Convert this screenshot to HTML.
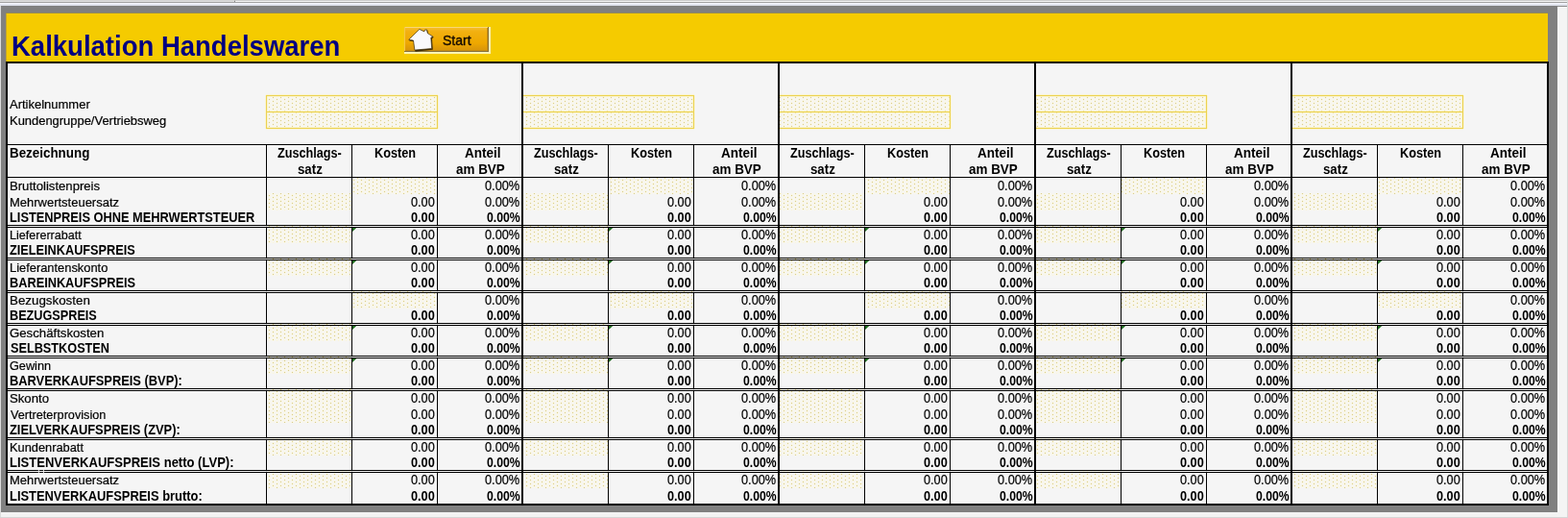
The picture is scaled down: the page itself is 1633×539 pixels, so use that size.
<!DOCTYPE html>
<html lang="de"><head><meta charset="utf-8"><title>Kalkulation Handelswaren</title>
<style>
html,body{margin:0;padding:0;background:#f3f3f3;}
body{width:1633px;height:539px;overflow:hidden;position:relative;font-family:"Liberation Sans",Arial,sans-serif;}
#g{position:absolute;left:0;top:0;width:1633px;height:539px;display:block;shape-rendering:crispEdges;}
#g path{shape-rendering:geometricPrecision;}
.t{position:absolute;font-size:14px;line-height:17px;height:17px;white-space:nowrap;color:#000;transform:scaleX(.9286);transform-origin:0 0;-webkit-text-stroke:.22px #000;}
.b{font-weight:bold;-webkit-text-stroke:0;}
.l{font-size:13.5px;}

.title{position:absolute;left:12.45px;top:28px;font-size:28.6px;line-height:40px;transform:scaleX(.962);transform-origin:0 0;font-weight:bold;color:#000080;white-space:nowrap;}
.start{position:absolute;left:461.3px;top:33.5px;font-size:14.2px;line-height:17px;color:#140a00;white-space:nowrap;transform:scaleX(.99);transform-origin:0 0;-webkit-text-stroke:.35px #140a00;}
</style></head>
<body>
<svg id="g" width="1633" height="539" viewBox="0 0 1633 539">
<defs>
<pattern id="dp" x="0" y="0" width="8" height="4" patternUnits="userSpaceOnUse">
<rect width="8" height="4" fill="#f7f6f0"/>
<path d="M0 0h1v1h-1zM0 2h1v1h1v1h-2zM7 3h1v1h-1zM4 0h1v1h1v1h-1v1h-1v-1h-1v-1h1z" fill="#fbf6db"/>
<rect x="0" y="3" width="1" height="1" fill="#d5cb96"/>
<rect x="4" y="1" width="1" height="1" fill="#d5cb96"/>
</pattern>
<linearGradient id="bg" x1="0" y1="0" x2="0" y2="1">
<stop offset="0" stop-color="#f6c030"/><stop offset=".2" stop-color="#f2b010"/><stop offset=".7" stop-color="#eea800"/><stop offset="1" stop-color="#d9960a"/>
</linearGradient>
</defs>
<rect x="0" y="0" width="1633" height="539" fill="#f3f3f3"/>
<rect x="0" y="0" width="1633" height="1" fill="#cccccc"/>
<rect x="0" y="1" width="1633" height="1" fill="#f4f4f4"/>
<rect x="0" y="2" width="1633" height="1" fill="#a1a1a1"/>
<rect x="0" y="3" width="1633" height="1" fill="#f4f5fb"/>
<rect x="0" y="4" width="1633" height="1" fill="#e4e7f0"/>
<rect x="0" y="5" width="1633" height="1" fill="#dfe2ec"/>
<rect x="0" y="0" width="244" height="1" fill="#d3d3d3"/>
<rect x="0" y="1" width="244" height="1" fill="#dedede"/>
<rect x="244" y="1" width="1" height="1" fill="#858585"/>
<rect x="244" y="0" width="1" height="1" fill="#bdbdbd"/>
<rect x="0" y="6" width="1" height="533" fill="#dcdcdc"/>
<rect x="1" y="6" width="1621" height="527" fill="#808080"/>
<rect x="1622" y="7" width="10" height="531" fill="#f4f4f4"/>
<rect x="1622" y="6" width="10" height="1" fill="#8c8c8c"/>
<rect x="1632" y="0" width="1" height="539" fill="#d8d8d8"/>
<rect x="0" y="538" width="1633" height="1" fill="#d6d6d6"/>
<rect x="6" y="14" width="1606" height="50" fill="#f5cb00"/>
<rect x="6" y="13" width="1606" height="1" fill="#948a55"/>
<rect x="6" y="14" width="1" height="50" fill="#c4a62c"/>
<rect x="6" y="64" width="1607" height="462" fill="#000"/>
<rect x="8" y="66" width="1603" height="458" fill="#f5f5f5"/>
<rect x="278" y="100" width="178" height="33" fill="url(#dp)"/>
<rect x="367" y="185" width="88" height="17" fill="url(#dp)"/>
<rect x="278" y="201" width="88" height="18" fill="url(#dp)"/>
<rect x="278" y="235" width="88" height="18" fill="url(#dp)"/>
<rect x="278" y="269" width="88" height="18" fill="url(#dp)"/>
<rect x="367" y="303" width="88" height="18" fill="url(#dp)"/>
<rect x="278" y="337" width="88" height="18" fill="url(#dp)"/>
<rect x="278" y="371" width="88" height="18" fill="url(#dp)"/>
<rect x="278" y="405" width="88" height="18" fill="url(#dp)"/>
<rect x="278" y="422" width="88" height="18" fill="url(#dp)"/>
<rect x="278" y="456" width="88" height="18" fill="url(#dp)"/>
<rect x="278" y="490" width="88" height="18" fill="url(#dp)"/>
<rect x="545" y="100" width="178" height="33" fill="url(#dp)"/>
<rect x="634" y="185" width="88" height="17" fill="url(#dp)"/>
<rect x="545" y="201" width="88" height="18" fill="url(#dp)"/>
<rect x="545" y="235" width="88" height="18" fill="url(#dp)"/>
<rect x="545" y="269" width="88" height="18" fill="url(#dp)"/>
<rect x="634" y="303" width="88" height="18" fill="url(#dp)"/>
<rect x="545" y="337" width="88" height="18" fill="url(#dp)"/>
<rect x="545" y="371" width="88" height="18" fill="url(#dp)"/>
<rect x="545" y="405" width="88" height="18" fill="url(#dp)"/>
<rect x="545" y="422" width="88" height="18" fill="url(#dp)"/>
<rect x="545" y="456" width="88" height="18" fill="url(#dp)"/>
<rect x="545" y="490" width="88" height="18" fill="url(#dp)"/>
<rect x="812" y="100" width="178" height="33" fill="url(#dp)"/>
<rect x="901" y="185" width="88" height="17" fill="url(#dp)"/>
<rect x="812" y="201" width="88" height="18" fill="url(#dp)"/>
<rect x="812" y="235" width="88" height="18" fill="url(#dp)"/>
<rect x="812" y="269" width="88" height="18" fill="url(#dp)"/>
<rect x="901" y="303" width="88" height="18" fill="url(#dp)"/>
<rect x="812" y="337" width="88" height="18" fill="url(#dp)"/>
<rect x="812" y="371" width="88" height="18" fill="url(#dp)"/>
<rect x="812" y="405" width="88" height="18" fill="url(#dp)"/>
<rect x="812" y="422" width="88" height="18" fill="url(#dp)"/>
<rect x="812" y="456" width="88" height="18" fill="url(#dp)"/>
<rect x="812" y="490" width="88" height="18" fill="url(#dp)"/>
<rect x="1079" y="100" width="178" height="33" fill="url(#dp)"/>
<rect x="1168" y="185" width="88" height="17" fill="url(#dp)"/>
<rect x="1079" y="201" width="88" height="18" fill="url(#dp)"/>
<rect x="1079" y="235" width="88" height="18" fill="url(#dp)"/>
<rect x="1079" y="269" width="88" height="18" fill="url(#dp)"/>
<rect x="1168" y="303" width="88" height="18" fill="url(#dp)"/>
<rect x="1079" y="337" width="88" height="18" fill="url(#dp)"/>
<rect x="1079" y="371" width="88" height="18" fill="url(#dp)"/>
<rect x="1079" y="405" width="88" height="18" fill="url(#dp)"/>
<rect x="1079" y="422" width="88" height="18" fill="url(#dp)"/>
<rect x="1079" y="456" width="88" height="18" fill="url(#dp)"/>
<rect x="1079" y="490" width="88" height="18" fill="url(#dp)"/>
<rect x="1346" y="100" width="178" height="33" fill="url(#dp)"/>
<rect x="1435" y="185" width="88" height="17" fill="url(#dp)"/>
<rect x="1346" y="201" width="88" height="18" fill="url(#dp)"/>
<rect x="1346" y="235" width="88" height="18" fill="url(#dp)"/>
<rect x="1346" y="269" width="88" height="18" fill="url(#dp)"/>
<rect x="1435" y="303" width="88" height="18" fill="url(#dp)"/>
<rect x="1346" y="337" width="88" height="18" fill="url(#dp)"/>
<rect x="1346" y="371" width="88" height="18" fill="url(#dp)"/>
<rect x="1346" y="405" width="88" height="18" fill="url(#dp)"/>
<rect x="1346" y="422" width="88" height="18" fill="url(#dp)"/>
<rect x="1346" y="456" width="88" height="18" fill="url(#dp)"/>
<rect x="1346" y="490" width="88" height="18" fill="url(#dp)"/>
<rect x="277" y="98" width="179" height="3" fill="#fbf2b8" opacity=".55"/>
<rect x="277" y="115" width="179" height="3" fill="#fbf2b8" opacity=".55"/>
<rect x="277" y="132" width="179" height="3" fill="#fbf2b8" opacity=".55"/>
<rect x="454" y="99" width="3" height="35" fill="#fbf2b8" opacity=".55"/>
<rect x="276" y="99" width="3" height="35" fill="#fbf2b8" opacity=".55"/>
<rect x="277" y="99" width="179" height="1" fill="#ecd252"/>
<rect x="277" y="116" width="179" height="1" fill="#ecd252"/>
<rect x="277" y="133" width="179" height="1" fill="#ecd252"/>
<rect x="455" y="99" width="1" height="35" fill="#ecd252"/>
<rect x="277" y="99" width="1" height="35" fill="#ecd252"/>
<rect x="545" y="98" width="178" height="3" fill="#fbf2b8" opacity=".55"/>
<rect x="545" y="115" width="178" height="3" fill="#fbf2b8" opacity=".55"/>
<rect x="545" y="132" width="178" height="3" fill="#fbf2b8" opacity=".55"/>
<rect x="721" y="99" width="3" height="35" fill="#fbf2b8" opacity=".55"/>
<rect x="545" y="99" width="178" height="1" fill="#ecd252"/>
<rect x="545" y="116" width="178" height="1" fill="#ecd252"/>
<rect x="545" y="133" width="178" height="1" fill="#ecd252"/>
<rect x="722" y="99" width="1" height="35" fill="#ecd252"/>
<rect x="812" y="98" width="178" height="3" fill="#fbf2b8" opacity=".55"/>
<rect x="812" y="115" width="178" height="3" fill="#fbf2b8" opacity=".55"/>
<rect x="812" y="132" width="178" height="3" fill="#fbf2b8" opacity=".55"/>
<rect x="988" y="99" width="3" height="35" fill="#fbf2b8" opacity=".55"/>
<rect x="812" y="99" width="178" height="1" fill="#ecd252"/>
<rect x="812" y="116" width="178" height="1" fill="#ecd252"/>
<rect x="812" y="133" width="178" height="1" fill="#ecd252"/>
<rect x="989" y="99" width="1" height="35" fill="#ecd252"/>
<rect x="1079" y="98" width="178" height="3" fill="#fbf2b8" opacity=".55"/>
<rect x="1079" y="115" width="178" height="3" fill="#fbf2b8" opacity=".55"/>
<rect x="1079" y="132" width="178" height="3" fill="#fbf2b8" opacity=".55"/>
<rect x="1255" y="99" width="3" height="35" fill="#fbf2b8" opacity=".55"/>
<rect x="1079" y="99" width="178" height="1" fill="#ecd252"/>
<rect x="1079" y="116" width="178" height="1" fill="#ecd252"/>
<rect x="1079" y="133" width="178" height="1" fill="#ecd252"/>
<rect x="1256" y="99" width="1" height="35" fill="#ecd252"/>
<rect x="1346" y="98" width="178" height="3" fill="#fbf2b8" opacity=".55"/>
<rect x="1346" y="115" width="178" height="3" fill="#fbf2b8" opacity=".55"/>
<rect x="1346" y="132" width="178" height="3" fill="#fbf2b8" opacity=".55"/>
<rect x="1522" y="99" width="3" height="35" fill="#fbf2b8" opacity=".55"/>
<rect x="1346" y="99" width="178" height="1" fill="#ecd252"/>
<rect x="1346" y="116" width="178" height="1" fill="#ecd252"/>
<rect x="1346" y="133" width="178" height="1" fill="#ecd252"/>
<rect x="1523" y="99" width="1" height="35" fill="#ecd252"/>
<rect x="8" y="150" width="1603" height="1" fill="#000"/>
<rect x="8" y="184" width="1603" height="1" fill="#000"/>
<rect x="277" y="150" width="1" height="374" fill="#000"/>
<rect x="366" y="150" width="1" height="374" fill="#000"/>
<rect x="455" y="150" width="1" height="374" fill="#000"/>
<rect x="633" y="150" width="1" height="374" fill="#000"/>
<rect x="722" y="150" width="1" height="374" fill="#000"/>
<rect x="900" y="150" width="1" height="374" fill="#000"/>
<rect x="989" y="150" width="1" height="374" fill="#000"/>
<rect x="1167" y="150" width="1" height="374" fill="#000"/>
<rect x="1256" y="150" width="1" height="374" fill="#000"/>
<rect x="1434" y="150" width="1" height="374" fill="#000"/>
<rect x="1523" y="150" width="1" height="374" fill="#000"/>
<rect x="8" y="234" width="1603" height="1" fill="#000"/>
<rect x="8" y="236" width="1603" height="1" fill="#000"/>
<rect x="8" y="268" width="1603" height="1" fill="#000"/>
<rect x="8" y="270" width="1603" height="1" fill="#000"/>
<rect x="8" y="302" width="1603" height="1" fill="#000"/>
<rect x="8" y="304" width="1603" height="1" fill="#000"/>
<rect x="8" y="336" width="1603" height="1" fill="#000"/>
<rect x="8" y="338" width="1603" height="1" fill="#000"/>
<rect x="8" y="370" width="1603" height="1" fill="#000"/>
<rect x="8" y="372" width="1603" height="1" fill="#000"/>
<rect x="8" y="404" width="1603" height="1" fill="#000"/>
<rect x="8" y="406" width="1603" height="1" fill="#000"/>
<rect x="8" y="455" width="1603" height="1" fill="#000"/>
<rect x="8" y="457" width="1603" height="1" fill="#000"/>
<rect x="8" y="489" width="1603" height="1" fill="#000"/>
<rect x="8" y="491" width="1603" height="1" fill="#000"/>
<rect x="277" y="235" width="1" height="1" fill="#cfcfcf"/>
<rect x="366" y="235" width="1" height="1" fill="#cfcfcf"/>
<rect x="455" y="235" width="1" height="1" fill="#cfcfcf"/>
<rect x="633" y="235" width="1" height="1" fill="#cfcfcf"/>
<rect x="722" y="235" width="1" height="1" fill="#cfcfcf"/>
<rect x="900" y="235" width="1" height="1" fill="#cfcfcf"/>
<rect x="989" y="235" width="1" height="1" fill="#cfcfcf"/>
<rect x="1167" y="235" width="1" height="1" fill="#cfcfcf"/>
<rect x="1256" y="235" width="1" height="1" fill="#cfcfcf"/>
<rect x="1434" y="235" width="1" height="1" fill="#cfcfcf"/>
<rect x="1523" y="235" width="1" height="1" fill="#cfcfcf"/>
<rect x="277" y="269" width="1" height="1" fill="#cfcfcf"/>
<rect x="366" y="269" width="1" height="1" fill="#cfcfcf"/>
<rect x="455" y="269" width="1" height="1" fill="#cfcfcf"/>
<rect x="633" y="269" width="1" height="1" fill="#cfcfcf"/>
<rect x="722" y="269" width="1" height="1" fill="#cfcfcf"/>
<rect x="900" y="269" width="1" height="1" fill="#cfcfcf"/>
<rect x="989" y="269" width="1" height="1" fill="#cfcfcf"/>
<rect x="1167" y="269" width="1" height="1" fill="#cfcfcf"/>
<rect x="1256" y="269" width="1" height="1" fill="#cfcfcf"/>
<rect x="1434" y="269" width="1" height="1" fill="#cfcfcf"/>
<rect x="1523" y="269" width="1" height="1" fill="#cfcfcf"/>
<rect x="277" y="303" width="1" height="1" fill="#cfcfcf"/>
<rect x="366" y="303" width="1" height="1" fill="#cfcfcf"/>
<rect x="455" y="303" width="1" height="1" fill="#cfcfcf"/>
<rect x="633" y="303" width="1" height="1" fill="#cfcfcf"/>
<rect x="722" y="303" width="1" height="1" fill="#cfcfcf"/>
<rect x="900" y="303" width="1" height="1" fill="#cfcfcf"/>
<rect x="989" y="303" width="1" height="1" fill="#cfcfcf"/>
<rect x="1167" y="303" width="1" height="1" fill="#cfcfcf"/>
<rect x="1256" y="303" width="1" height="1" fill="#cfcfcf"/>
<rect x="1434" y="303" width="1" height="1" fill="#cfcfcf"/>
<rect x="1523" y="303" width="1" height="1" fill="#cfcfcf"/>
<rect x="277" y="337" width="1" height="1" fill="#cfcfcf"/>
<rect x="366" y="337" width="1" height="1" fill="#cfcfcf"/>
<rect x="455" y="337" width="1" height="1" fill="#cfcfcf"/>
<rect x="633" y="337" width="1" height="1" fill="#cfcfcf"/>
<rect x="722" y="337" width="1" height="1" fill="#cfcfcf"/>
<rect x="900" y="337" width="1" height="1" fill="#cfcfcf"/>
<rect x="989" y="337" width="1" height="1" fill="#cfcfcf"/>
<rect x="1167" y="337" width="1" height="1" fill="#cfcfcf"/>
<rect x="1256" y="337" width="1" height="1" fill="#cfcfcf"/>
<rect x="1434" y="337" width="1" height="1" fill="#cfcfcf"/>
<rect x="1523" y="337" width="1" height="1" fill="#cfcfcf"/>
<rect x="277" y="371" width="1" height="1" fill="#cfcfcf"/>
<rect x="366" y="371" width="1" height="1" fill="#cfcfcf"/>
<rect x="455" y="371" width="1" height="1" fill="#cfcfcf"/>
<rect x="633" y="371" width="1" height="1" fill="#cfcfcf"/>
<rect x="722" y="371" width="1" height="1" fill="#cfcfcf"/>
<rect x="900" y="371" width="1" height="1" fill="#cfcfcf"/>
<rect x="989" y="371" width="1" height="1" fill="#cfcfcf"/>
<rect x="1167" y="371" width="1" height="1" fill="#cfcfcf"/>
<rect x="1256" y="371" width="1" height="1" fill="#cfcfcf"/>
<rect x="1434" y="371" width="1" height="1" fill="#cfcfcf"/>
<rect x="1523" y="371" width="1" height="1" fill="#cfcfcf"/>
<rect x="277" y="405" width="1" height="1" fill="#cfcfcf"/>
<rect x="366" y="405" width="1" height="1" fill="#cfcfcf"/>
<rect x="455" y="405" width="1" height="1" fill="#cfcfcf"/>
<rect x="633" y="405" width="1" height="1" fill="#cfcfcf"/>
<rect x="722" y="405" width="1" height="1" fill="#cfcfcf"/>
<rect x="900" y="405" width="1" height="1" fill="#cfcfcf"/>
<rect x="989" y="405" width="1" height="1" fill="#cfcfcf"/>
<rect x="1167" y="405" width="1" height="1" fill="#cfcfcf"/>
<rect x="1256" y="405" width="1" height="1" fill="#cfcfcf"/>
<rect x="1434" y="405" width="1" height="1" fill="#cfcfcf"/>
<rect x="1523" y="405" width="1" height="1" fill="#cfcfcf"/>
<rect x="277" y="456" width="1" height="1" fill="#cfcfcf"/>
<rect x="366" y="456" width="1" height="1" fill="#cfcfcf"/>
<rect x="455" y="456" width="1" height="1" fill="#cfcfcf"/>
<rect x="633" y="456" width="1" height="1" fill="#cfcfcf"/>
<rect x="722" y="456" width="1" height="1" fill="#cfcfcf"/>
<rect x="900" y="456" width="1" height="1" fill="#cfcfcf"/>
<rect x="989" y="456" width="1" height="1" fill="#cfcfcf"/>
<rect x="1167" y="456" width="1" height="1" fill="#cfcfcf"/>
<rect x="1256" y="456" width="1" height="1" fill="#cfcfcf"/>
<rect x="1434" y="456" width="1" height="1" fill="#cfcfcf"/>
<rect x="1523" y="456" width="1" height="1" fill="#cfcfcf"/>
<rect x="277" y="490" width="1" height="1" fill="#cfcfcf"/>
<rect x="366" y="490" width="1" height="1" fill="#cfcfcf"/>
<rect x="455" y="490" width="1" height="1" fill="#cfcfcf"/>
<rect x="633" y="490" width="1" height="1" fill="#cfcfcf"/>
<rect x="722" y="490" width="1" height="1" fill="#cfcfcf"/>
<rect x="900" y="490" width="1" height="1" fill="#cfcfcf"/>
<rect x="989" y="490" width="1" height="1" fill="#cfcfcf"/>
<rect x="1167" y="490" width="1" height="1" fill="#cfcfcf"/>
<rect x="1256" y="490" width="1" height="1" fill="#cfcfcf"/>
<rect x="1434" y="490" width="1" height="1" fill="#cfcfcf"/>
<rect x="1523" y="490" width="1" height="1" fill="#cfcfcf"/>
<rect x="543" y="64" width="2" height="460" fill="#000"/>
<rect x="810" y="64" width="2" height="460" fill="#000"/>
<rect x="1077" y="64" width="2" height="460" fill="#000"/>
<rect x="1344" y="64" width="2" height="460" fill="#000"/>
<rect x="40" y="488" width="1" height="5" fill="#f5f5f5" opacity=".85"/>
<rect x="45" y="488" width="1" height="5" fill="#f5f5f5" opacity=".85"/>
<path d="M367 237h4.3L367 241.1z" fill="#1c6b1c"/>
<path d="M367 271h4.3L367 275.1z" fill="#1c6b1c"/>
<path d="M367 339h4.3L367 343.1z" fill="#1c6b1c"/>
<path d="M367 373h4.3L367 377.1z" fill="#1c6b1c"/>
<path d="M634 237h4.3L634 241.1z" fill="#1c6b1c"/>
<path d="M634 271h4.3L634 275.1z" fill="#1c6b1c"/>
<path d="M634 339h4.3L634 343.1z" fill="#1c6b1c"/>
<path d="M634 373h4.3L634 377.1z" fill="#1c6b1c"/>
<path d="M901 237h4.3L901 241.1z" fill="#1c6b1c"/>
<path d="M901 271h4.3L901 275.1z" fill="#1c6b1c"/>
<path d="M901 339h4.3L901 343.1z" fill="#1c6b1c"/>
<path d="M901 373h4.3L901 377.1z" fill="#1c6b1c"/>
<path d="M1168 237h4.3L1168 241.1z" fill="#1c6b1c"/>
<path d="M1168 271h4.3L1168 275.1z" fill="#1c6b1c"/>
<path d="M1168 339h4.3L1168 343.1z" fill="#1c6b1c"/>
<path d="M1168 373h4.3L1168 377.1z" fill="#1c6b1c"/>
<path d="M1435 237h4.3L1435 241.1z" fill="#1c6b1c"/>
<path d="M1435 271h4.3L1435 275.1z" fill="#1c6b1c"/>
<path d="M1435 339h4.3L1435 343.1z" fill="#1c6b1c"/>
<path d="M1435 373h4.3L1435 377.1z" fill="#1c6b1c"/>
<g>
<rect x="421" y="28" width="90" height="28" fill="#fdf4b4"/>
<rect x="421" y="28" width="88" height="26" fill="#86703a"/>
<rect x="421" y="28" width="87" height="25" fill="#c98f12"/>
<rect x="421" y="28" width="86" height="24" fill="url(#bg)"/>
<rect x="421" y="28" width="87" height="1" fill="#f9d776"/>
<rect x="421" y="28" width="1" height="25" fill="#f5c649"/>
<path d="M437.6 31.1 L442.6 33.6 L442.9 31.9 L445.2 31.6 L446.1 35.3 L451.8 38.8 L450 40.2 L450.8 51.8 L432.5 53.8 L431.2 43.2 L426 42.5 Z" fill="#1e1400" opacity=".8"/>
<path d="M436.9 30.4 L441.9 32.9 L442.3 31.2 L444.4 30.9 L445.3 34.6 L450.9 38.1 L448.8 39.2 L449.7 50.5 L431.9 52.1 L430.5 42.1 L425.7 41.3 Z" fill="#f9f9fb" stroke="#3a2a04" stroke-opacity=".75" stroke-width=".9" stroke-linejoin="miter"/>
</g>
</svg>
<div class="title">Kalkulation Handelswaren</div>
<div class="start">Start</div>
<div class="t l" style="left:10.10px;top:100px;transform:scaleX(0.9624)">Artikelnummer</div>
<div class="t l" style="left:9.58px;top:117px;transform:scaleX(0.9581)">Kundengruppe/Vertriebsweg</div>
<div class="t b" style="left:9.90px;top:151px;transform:scaleX(0.9564)">Bezeichnung</div>
<div class="t l" style="left:9.67px;top:185px;transform:scaleX(0.9722)">Bruttolistenpreis</div>
<div class="t l" style="left:9.68px;top:202px;transform:scaleX(0.9615)">Mehrwertsteuersatz</div>
<div class="t b" style="left:9.98px;top:218px;transform:scaleX(0.9148)">LISTENPREIS OHNE MEHRWERTSTEUER</div>
<div class="t l" style="left:9.71px;top:236px;transform:scaleX(0.9312)">Liefererrabatt</div>
<div class="t b" style="left:10.34px;top:252px;transform:scaleX(0.9086)">ZIELEINKAUFSPREIS</div>
<div class="t l" style="left:9.69px;top:270px;transform:scaleX(0.9536)">Lieferantenskonto</div>
<div class="t b" style="left:9.98px;top:286px;transform:scaleX(0.9111)">BAREINKAUFSPREIS</div>
<div class="t l" style="left:9.65px;top:304px;transform:scaleX(0.9881)">Bezugskosten</div>
<div class="t b" style="left:9.99px;top:320px;transform:scaleX(0.9048)">BEZUGSPREIS</div>
<div class="t l" style="left:10.04px;top:338px;transform:scaleX(0.9776)">Geschäftskosten</div>
<div class="t b" style="left:11.34px;top:354px;transform:scaleX(0.9069)">SELBSTKOSTEN</div>
<div class="t l" style="left:10.07px;top:372px;transform:scaleX(0.9402)">Gewinn</div>
<div class="t b" style="left:9.97px;top:388px;transform:scaleX(0.9184)">BARVERKAUFSPREIS (BVP):</div>
<div class="t l" style="left:10.14px;top:406px;transform:scaleX(0.9759)">Skonto</div>
<div class="t l" style="left:10.70px;top:423px;transform:scaleX(0.9386)">Vertreterprovision</div>
<div class="t b" style="left:10.33px;top:439px;transform:scaleX(0.9189)">ZIELVERKAUFSPREIS (ZVP):</div>
<div class="t l" style="left:9.69px;top:457px;transform:scaleX(0.9497)">Kundenrabatt</div>
<div class="t b" style="left:9.96px;top:473px;transform:scaleX(0.9304)">LISTENVERKAUFSPREIS netto (LVP):</div>
<div class="t l" style="left:9.68px;top:491px;transform:scaleX(0.9615)">Mehrwertsteuersatz</div>
<div class="t b" style="left:9.97px;top:508px;transform:scaleX(0.9215)">LISTENVERKAUFSPREIS brutto:</div>
<div class="t b" style="left:288.84px;top:151px;transform:scaleX(0.9036)">Zuschlags-</div>
<div class="t b" style="left:309.92px;top:168px;transform:scaleX(0.9455)">satz</div>
<div class="t b" style="left:389.68px;top:151px;transform:scaleX(0.9082)">Kosten</div>
<div class="t b" style="left:483.81px;top:151px;transform:scaleX(0.9654)">Anteil</div>
<div class="t b" style="left:475.12px;top:168px;transform:scaleX(0.9602)">am BVP</div>
<div class="t" style="left:505.24px;top:185px;transform:scaleX(0.9110)">0.00%</div>
<div class="t" style="left:428.15px;top:202px;transform:scaleX(0.9063)">0.00</div>
<div class="t" style="left:505.24px;top:202px;transform:scaleX(0.9110)">0.00%</div>
<div class="t b" style="left:428.15px;top:218px;transform:scaleX(0.9063)">0.00</div>
<div class="t b" style="left:507.06px;top:218px;transform:scaleX(0.8726)">0.00%</div>
<div class="t" style="left:428.15px;top:236px;transform:scaleX(0.9063)">0.00</div>
<div class="t" style="left:505.24px;top:236px;transform:scaleX(0.9110)">0.00%</div>
<div class="t b" style="left:428.15px;top:252px;transform:scaleX(0.9063)">0.00</div>
<div class="t b" style="left:507.06px;top:252px;transform:scaleX(0.8726)">0.00%</div>
<div class="t" style="left:428.15px;top:270px;transform:scaleX(0.9063)">0.00</div>
<div class="t" style="left:505.24px;top:270px;transform:scaleX(0.9110)">0.00%</div>
<div class="t b" style="left:428.15px;top:286px;transform:scaleX(0.9063)">0.00</div>
<div class="t b" style="left:507.06px;top:286px;transform:scaleX(0.8726)">0.00%</div>
<div class="t" style="left:505.24px;top:304px;transform:scaleX(0.9110)">0.00%</div>
<div class="t b" style="left:428.15px;top:320px;transform:scaleX(0.9063)">0.00</div>
<div class="t b" style="left:507.06px;top:320px;transform:scaleX(0.8726)">0.00%</div>
<div class="t" style="left:428.15px;top:338px;transform:scaleX(0.9063)">0.00</div>
<div class="t" style="left:505.24px;top:338px;transform:scaleX(0.9110)">0.00%</div>
<div class="t b" style="left:428.15px;top:354px;transform:scaleX(0.9063)">0.00</div>
<div class="t b" style="left:507.06px;top:354px;transform:scaleX(0.8726)">0.00%</div>
<div class="t" style="left:428.15px;top:372px;transform:scaleX(0.9063)">0.00</div>
<div class="t" style="left:505.24px;top:372px;transform:scaleX(0.9110)">0.00%</div>
<div class="t b" style="left:428.15px;top:388px;transform:scaleX(0.9063)">0.00</div>
<div class="t b" style="left:507.06px;top:388px;transform:scaleX(0.8726)">0.00%</div>
<div class="t" style="left:428.15px;top:406px;transform:scaleX(0.9063)">0.00</div>
<div class="t" style="left:505.24px;top:406px;transform:scaleX(0.9110)">0.00%</div>
<div class="t" style="left:428.15px;top:423px;transform:scaleX(0.9063)">0.00</div>
<div class="t" style="left:505.24px;top:423px;transform:scaleX(0.9110)">0.00%</div>
<div class="t b" style="left:428.15px;top:439px;transform:scaleX(0.9063)">0.00</div>
<div class="t b" style="left:507.06px;top:439px;transform:scaleX(0.8726)">0.00%</div>
<div class="t" style="left:428.15px;top:457px;transform:scaleX(0.9063)">0.00</div>
<div class="t" style="left:505.24px;top:457px;transform:scaleX(0.9110)">0.00%</div>
<div class="t b" style="left:428.15px;top:473px;transform:scaleX(0.9063)">0.00</div>
<div class="t b" style="left:507.06px;top:473px;transform:scaleX(0.8726)">0.00%</div>
<div class="t" style="left:428.15px;top:491px;transform:scaleX(0.9063)">0.00</div>
<div class="t" style="left:505.24px;top:491px;transform:scaleX(0.9110)">0.00%</div>
<div class="t b" style="left:428.15px;top:508px;transform:scaleX(0.9063)">0.00</div>
<div class="t b" style="left:507.06px;top:508px;transform:scaleX(0.8726)">0.00%</div>
<div class="t b" style="left:555.84px;top:151px;transform:scaleX(0.9036)">Zuschlags-</div>
<div class="t b" style="left:576.92px;top:168px;transform:scaleX(0.9455)">satz</div>
<div class="t b" style="left:656.68px;top:151px;transform:scaleX(0.9082)">Kosten</div>
<div class="t b" style="left:750.81px;top:151px;transform:scaleX(0.9654)">Anteil</div>
<div class="t b" style="left:742.12px;top:168px;transform:scaleX(0.9602)">am BVP</div>
<div class="t" style="left:772.24px;top:185px;transform:scaleX(0.9110)">0.00%</div>
<div class="t" style="left:695.15px;top:202px;transform:scaleX(0.9063)">0.00</div>
<div class="t" style="left:772.24px;top:202px;transform:scaleX(0.9110)">0.00%</div>
<div class="t b" style="left:695.15px;top:218px;transform:scaleX(0.9063)">0.00</div>
<div class="t b" style="left:774.06px;top:218px;transform:scaleX(0.8726)">0.00%</div>
<div class="t" style="left:695.15px;top:236px;transform:scaleX(0.9063)">0.00</div>
<div class="t" style="left:772.24px;top:236px;transform:scaleX(0.9110)">0.00%</div>
<div class="t b" style="left:695.15px;top:252px;transform:scaleX(0.9063)">0.00</div>
<div class="t b" style="left:774.06px;top:252px;transform:scaleX(0.8726)">0.00%</div>
<div class="t" style="left:695.15px;top:270px;transform:scaleX(0.9063)">0.00</div>
<div class="t" style="left:772.24px;top:270px;transform:scaleX(0.9110)">0.00%</div>
<div class="t b" style="left:695.15px;top:286px;transform:scaleX(0.9063)">0.00</div>
<div class="t b" style="left:774.06px;top:286px;transform:scaleX(0.8726)">0.00%</div>
<div class="t" style="left:772.24px;top:304px;transform:scaleX(0.9110)">0.00%</div>
<div class="t b" style="left:695.15px;top:320px;transform:scaleX(0.9063)">0.00</div>
<div class="t b" style="left:774.06px;top:320px;transform:scaleX(0.8726)">0.00%</div>
<div class="t" style="left:695.15px;top:338px;transform:scaleX(0.9063)">0.00</div>
<div class="t" style="left:772.24px;top:338px;transform:scaleX(0.9110)">0.00%</div>
<div class="t b" style="left:695.15px;top:354px;transform:scaleX(0.9063)">0.00</div>
<div class="t b" style="left:774.06px;top:354px;transform:scaleX(0.8726)">0.00%</div>
<div class="t" style="left:695.15px;top:372px;transform:scaleX(0.9063)">0.00</div>
<div class="t" style="left:772.24px;top:372px;transform:scaleX(0.9110)">0.00%</div>
<div class="t b" style="left:695.15px;top:388px;transform:scaleX(0.9063)">0.00</div>
<div class="t b" style="left:774.06px;top:388px;transform:scaleX(0.8726)">0.00%</div>
<div class="t" style="left:695.15px;top:406px;transform:scaleX(0.9063)">0.00</div>
<div class="t" style="left:772.24px;top:406px;transform:scaleX(0.9110)">0.00%</div>
<div class="t" style="left:695.15px;top:423px;transform:scaleX(0.9063)">0.00</div>
<div class="t" style="left:772.24px;top:423px;transform:scaleX(0.9110)">0.00%</div>
<div class="t b" style="left:695.15px;top:439px;transform:scaleX(0.9063)">0.00</div>
<div class="t b" style="left:774.06px;top:439px;transform:scaleX(0.8726)">0.00%</div>
<div class="t" style="left:695.15px;top:457px;transform:scaleX(0.9063)">0.00</div>
<div class="t" style="left:772.24px;top:457px;transform:scaleX(0.9110)">0.00%</div>
<div class="t b" style="left:695.15px;top:473px;transform:scaleX(0.9063)">0.00</div>
<div class="t b" style="left:774.06px;top:473px;transform:scaleX(0.8726)">0.00%</div>
<div class="t" style="left:695.15px;top:491px;transform:scaleX(0.9063)">0.00</div>
<div class="t" style="left:772.24px;top:491px;transform:scaleX(0.9110)">0.00%</div>
<div class="t b" style="left:695.15px;top:508px;transform:scaleX(0.9063)">0.00</div>
<div class="t b" style="left:774.06px;top:508px;transform:scaleX(0.8726)">0.00%</div>
<div class="t b" style="left:822.84px;top:151px;transform:scaleX(0.9036)">Zuschlags-</div>
<div class="t b" style="left:843.92px;top:168px;transform:scaleX(0.9455)">satz</div>
<div class="t b" style="left:923.68px;top:151px;transform:scaleX(0.9082)">Kosten</div>
<div class="t b" style="left:1017.81px;top:151px;transform:scaleX(0.9654)">Anteil</div>
<div class="t b" style="left:1009.12px;top:168px;transform:scaleX(0.9602)">am BVP</div>
<div class="t" style="left:1039.24px;top:185px;transform:scaleX(0.9110)">0.00%</div>
<div class="t" style="left:962.15px;top:202px;transform:scaleX(0.9063)">0.00</div>
<div class="t" style="left:1039.24px;top:202px;transform:scaleX(0.9110)">0.00%</div>
<div class="t b" style="left:962.15px;top:218px;transform:scaleX(0.9063)">0.00</div>
<div class="t b" style="left:1041.06px;top:218px;transform:scaleX(0.8726)">0.00%</div>
<div class="t" style="left:962.15px;top:236px;transform:scaleX(0.9063)">0.00</div>
<div class="t" style="left:1039.24px;top:236px;transform:scaleX(0.9110)">0.00%</div>
<div class="t b" style="left:962.15px;top:252px;transform:scaleX(0.9063)">0.00</div>
<div class="t b" style="left:1041.06px;top:252px;transform:scaleX(0.8726)">0.00%</div>
<div class="t" style="left:962.15px;top:270px;transform:scaleX(0.9063)">0.00</div>
<div class="t" style="left:1039.24px;top:270px;transform:scaleX(0.9110)">0.00%</div>
<div class="t b" style="left:962.15px;top:286px;transform:scaleX(0.9063)">0.00</div>
<div class="t b" style="left:1041.06px;top:286px;transform:scaleX(0.8726)">0.00%</div>
<div class="t" style="left:1039.24px;top:304px;transform:scaleX(0.9110)">0.00%</div>
<div class="t b" style="left:962.15px;top:320px;transform:scaleX(0.9063)">0.00</div>
<div class="t b" style="left:1041.06px;top:320px;transform:scaleX(0.8726)">0.00%</div>
<div class="t" style="left:962.15px;top:338px;transform:scaleX(0.9063)">0.00</div>
<div class="t" style="left:1039.24px;top:338px;transform:scaleX(0.9110)">0.00%</div>
<div class="t b" style="left:962.15px;top:354px;transform:scaleX(0.9063)">0.00</div>
<div class="t b" style="left:1041.06px;top:354px;transform:scaleX(0.8726)">0.00%</div>
<div class="t" style="left:962.15px;top:372px;transform:scaleX(0.9063)">0.00</div>
<div class="t" style="left:1039.24px;top:372px;transform:scaleX(0.9110)">0.00%</div>
<div class="t b" style="left:962.15px;top:388px;transform:scaleX(0.9063)">0.00</div>
<div class="t b" style="left:1041.06px;top:388px;transform:scaleX(0.8726)">0.00%</div>
<div class="t" style="left:962.15px;top:406px;transform:scaleX(0.9063)">0.00</div>
<div class="t" style="left:1039.24px;top:406px;transform:scaleX(0.9110)">0.00%</div>
<div class="t" style="left:962.15px;top:423px;transform:scaleX(0.9063)">0.00</div>
<div class="t" style="left:1039.24px;top:423px;transform:scaleX(0.9110)">0.00%</div>
<div class="t b" style="left:962.15px;top:439px;transform:scaleX(0.9063)">0.00</div>
<div class="t b" style="left:1041.06px;top:439px;transform:scaleX(0.8726)">0.00%</div>
<div class="t" style="left:962.15px;top:457px;transform:scaleX(0.9063)">0.00</div>
<div class="t" style="left:1039.24px;top:457px;transform:scaleX(0.9110)">0.00%</div>
<div class="t b" style="left:962.15px;top:473px;transform:scaleX(0.9063)">0.00</div>
<div class="t b" style="left:1041.06px;top:473px;transform:scaleX(0.8726)">0.00%</div>
<div class="t" style="left:962.15px;top:491px;transform:scaleX(0.9063)">0.00</div>
<div class="t" style="left:1039.24px;top:491px;transform:scaleX(0.9110)">0.00%</div>
<div class="t b" style="left:962.15px;top:508px;transform:scaleX(0.9063)">0.00</div>
<div class="t b" style="left:1041.06px;top:508px;transform:scaleX(0.8726)">0.00%</div>
<div class="t b" style="left:1089.84px;top:151px;transform:scaleX(0.9036)">Zuschlags-</div>
<div class="t b" style="left:1110.92px;top:168px;transform:scaleX(0.9455)">satz</div>
<div class="t b" style="left:1190.68px;top:151px;transform:scaleX(0.9082)">Kosten</div>
<div class="t b" style="left:1284.81px;top:151px;transform:scaleX(0.9654)">Anteil</div>
<div class="t b" style="left:1276.12px;top:168px;transform:scaleX(0.9602)">am BVP</div>
<div class="t" style="left:1306.24px;top:185px;transform:scaleX(0.9110)">0.00%</div>
<div class="t" style="left:1229.15px;top:202px;transform:scaleX(0.9063)">0.00</div>
<div class="t" style="left:1306.24px;top:202px;transform:scaleX(0.9110)">0.00%</div>
<div class="t b" style="left:1229.15px;top:218px;transform:scaleX(0.9063)">0.00</div>
<div class="t b" style="left:1308.06px;top:218px;transform:scaleX(0.8726)">0.00%</div>
<div class="t" style="left:1229.15px;top:236px;transform:scaleX(0.9063)">0.00</div>
<div class="t" style="left:1306.24px;top:236px;transform:scaleX(0.9110)">0.00%</div>
<div class="t b" style="left:1229.15px;top:252px;transform:scaleX(0.9063)">0.00</div>
<div class="t b" style="left:1308.06px;top:252px;transform:scaleX(0.8726)">0.00%</div>
<div class="t" style="left:1229.15px;top:270px;transform:scaleX(0.9063)">0.00</div>
<div class="t" style="left:1306.24px;top:270px;transform:scaleX(0.9110)">0.00%</div>
<div class="t b" style="left:1229.15px;top:286px;transform:scaleX(0.9063)">0.00</div>
<div class="t b" style="left:1308.06px;top:286px;transform:scaleX(0.8726)">0.00%</div>
<div class="t" style="left:1306.24px;top:304px;transform:scaleX(0.9110)">0.00%</div>
<div class="t b" style="left:1229.15px;top:320px;transform:scaleX(0.9063)">0.00</div>
<div class="t b" style="left:1308.06px;top:320px;transform:scaleX(0.8726)">0.00%</div>
<div class="t" style="left:1229.15px;top:338px;transform:scaleX(0.9063)">0.00</div>
<div class="t" style="left:1306.24px;top:338px;transform:scaleX(0.9110)">0.00%</div>
<div class="t b" style="left:1229.15px;top:354px;transform:scaleX(0.9063)">0.00</div>
<div class="t b" style="left:1308.06px;top:354px;transform:scaleX(0.8726)">0.00%</div>
<div class="t" style="left:1229.15px;top:372px;transform:scaleX(0.9063)">0.00</div>
<div class="t" style="left:1306.24px;top:372px;transform:scaleX(0.9110)">0.00%</div>
<div class="t b" style="left:1229.15px;top:388px;transform:scaleX(0.9063)">0.00</div>
<div class="t b" style="left:1308.06px;top:388px;transform:scaleX(0.8726)">0.00%</div>
<div class="t" style="left:1229.15px;top:406px;transform:scaleX(0.9063)">0.00</div>
<div class="t" style="left:1306.24px;top:406px;transform:scaleX(0.9110)">0.00%</div>
<div class="t" style="left:1229.15px;top:423px;transform:scaleX(0.9063)">0.00</div>
<div class="t" style="left:1306.24px;top:423px;transform:scaleX(0.9110)">0.00%</div>
<div class="t b" style="left:1229.15px;top:439px;transform:scaleX(0.9063)">0.00</div>
<div class="t b" style="left:1308.06px;top:439px;transform:scaleX(0.8726)">0.00%</div>
<div class="t" style="left:1229.15px;top:457px;transform:scaleX(0.9063)">0.00</div>
<div class="t" style="left:1306.24px;top:457px;transform:scaleX(0.9110)">0.00%</div>
<div class="t b" style="left:1229.15px;top:473px;transform:scaleX(0.9063)">0.00</div>
<div class="t b" style="left:1308.06px;top:473px;transform:scaleX(0.8726)">0.00%</div>
<div class="t" style="left:1229.15px;top:491px;transform:scaleX(0.9063)">0.00</div>
<div class="t" style="left:1306.24px;top:491px;transform:scaleX(0.9110)">0.00%</div>
<div class="t b" style="left:1229.15px;top:508px;transform:scaleX(0.9063)">0.00</div>
<div class="t b" style="left:1308.06px;top:508px;transform:scaleX(0.8726)">0.00%</div>
<div class="t b" style="left:1356.84px;top:151px;transform:scaleX(0.9036)">Zuschlags-</div>
<div class="t b" style="left:1377.92px;top:168px;transform:scaleX(0.9455)">satz</div>
<div class="t b" style="left:1457.68px;top:151px;transform:scaleX(0.9082)">Kosten</div>
<div class="t b" style="left:1551.81px;top:151px;transform:scaleX(0.9654)">Anteil</div>
<div class="t b" style="left:1543.12px;top:168px;transform:scaleX(0.9602)">am BVP</div>
<div class="t" style="left:1573.24px;top:185px;transform:scaleX(0.9110)">0.00%</div>
<div class="t" style="left:1496.15px;top:202px;transform:scaleX(0.9063)">0.00</div>
<div class="t" style="left:1573.24px;top:202px;transform:scaleX(0.9110)">0.00%</div>
<div class="t b" style="left:1496.15px;top:218px;transform:scaleX(0.9063)">0.00</div>
<div class="t b" style="left:1575.06px;top:218px;transform:scaleX(0.8726)">0.00%</div>
<div class="t" style="left:1496.15px;top:236px;transform:scaleX(0.9063)">0.00</div>
<div class="t" style="left:1573.24px;top:236px;transform:scaleX(0.9110)">0.00%</div>
<div class="t b" style="left:1496.15px;top:252px;transform:scaleX(0.9063)">0.00</div>
<div class="t b" style="left:1575.06px;top:252px;transform:scaleX(0.8726)">0.00%</div>
<div class="t" style="left:1496.15px;top:270px;transform:scaleX(0.9063)">0.00</div>
<div class="t" style="left:1573.24px;top:270px;transform:scaleX(0.9110)">0.00%</div>
<div class="t b" style="left:1496.15px;top:286px;transform:scaleX(0.9063)">0.00</div>
<div class="t b" style="left:1575.06px;top:286px;transform:scaleX(0.8726)">0.00%</div>
<div class="t" style="left:1573.24px;top:304px;transform:scaleX(0.9110)">0.00%</div>
<div class="t b" style="left:1496.15px;top:320px;transform:scaleX(0.9063)">0.00</div>
<div class="t b" style="left:1575.06px;top:320px;transform:scaleX(0.8726)">0.00%</div>
<div class="t" style="left:1496.15px;top:338px;transform:scaleX(0.9063)">0.00</div>
<div class="t" style="left:1573.24px;top:338px;transform:scaleX(0.9110)">0.00%</div>
<div class="t b" style="left:1496.15px;top:354px;transform:scaleX(0.9063)">0.00</div>
<div class="t b" style="left:1575.06px;top:354px;transform:scaleX(0.8726)">0.00%</div>
<div class="t" style="left:1496.15px;top:372px;transform:scaleX(0.9063)">0.00</div>
<div class="t" style="left:1573.24px;top:372px;transform:scaleX(0.9110)">0.00%</div>
<div class="t b" style="left:1496.15px;top:388px;transform:scaleX(0.9063)">0.00</div>
<div class="t b" style="left:1575.06px;top:388px;transform:scaleX(0.8726)">0.00%</div>
<div class="t" style="left:1496.15px;top:406px;transform:scaleX(0.9063)">0.00</div>
<div class="t" style="left:1573.24px;top:406px;transform:scaleX(0.9110)">0.00%</div>
<div class="t" style="left:1496.15px;top:423px;transform:scaleX(0.9063)">0.00</div>
<div class="t" style="left:1573.24px;top:423px;transform:scaleX(0.9110)">0.00%</div>
<div class="t b" style="left:1496.15px;top:439px;transform:scaleX(0.9063)">0.00</div>
<div class="t b" style="left:1575.06px;top:439px;transform:scaleX(0.8726)">0.00%</div>
<div class="t" style="left:1496.15px;top:457px;transform:scaleX(0.9063)">0.00</div>
<div class="t" style="left:1573.24px;top:457px;transform:scaleX(0.9110)">0.00%</div>
<div class="t b" style="left:1496.15px;top:473px;transform:scaleX(0.9063)">0.00</div>
<div class="t b" style="left:1575.06px;top:473px;transform:scaleX(0.8726)">0.00%</div>
<div class="t" style="left:1496.15px;top:491px;transform:scaleX(0.9063)">0.00</div>
<div class="t" style="left:1573.24px;top:491px;transform:scaleX(0.9110)">0.00%</div>
<div class="t b" style="left:1496.15px;top:508px;transform:scaleX(0.9063)">0.00</div>
<div class="t b" style="left:1575.06px;top:508px;transform:scaleX(0.8726)">0.00%</div>
</body></html>
